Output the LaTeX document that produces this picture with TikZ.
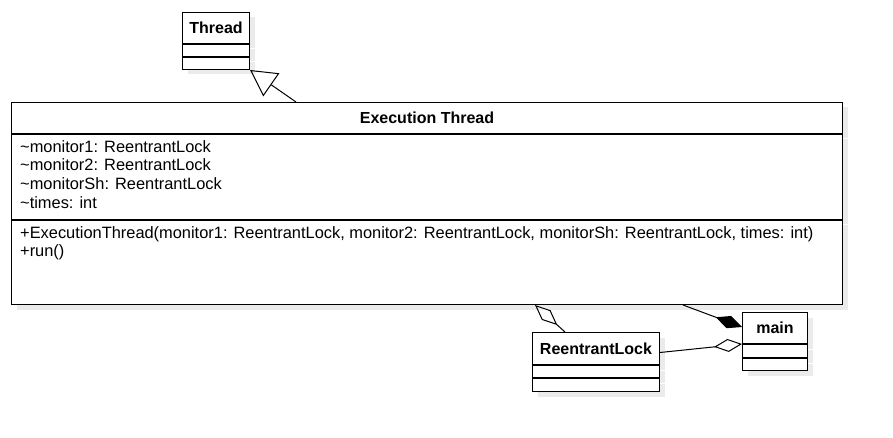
\documentclass[tikz,border=0pt]{standalone}
\usepackage{fontspec}
\setmainfont{Liberation Sans}
\usetikzlibrary{arrows.meta, shadows}

\tikzset{
  umlpart/.style={draw, line width=1pt, fill=white, anchor=north west, inner sep=0pt,
    drop shadow={shadow xshift=5pt, shadow yshift=-5pt, fill=black!8, opacity=1}},
  umlname/.style={font=\fontsize{16}{18.7}\selectfont\bfseries},
  umltext/.style={anchor=north west, inner sep=0pt, align=left, font=\fontsize{16.4}{18.7}\selectfont},
  assoc/.style={line width=1pt},
}

\begin{document}
\begin{tikzpicture}[x=1pt, y=-1pt]
\useasboundingbox (0,0) rectangle (893,438);

% Thread
\node[umlpart, umlname, minimum width=67pt, minimum height=31pt] (thread) at (182,12) {Thread};
\node[umlpart, minimum width=67pt, minimum height=12pt] (thread-attr) at (thread.south west) {};
\node[umlpart, minimum width=67pt, minimum height=12pt] (thread-ops) at (thread-attr.south west) {};

% Execution Thread
\node[umlpart, umlname, minimum width=831pt, minimum height=31pt] (exthread) at (11,102) {Execution Thread};
\node[umlpart, minimum width=831pt, minimum height=85pt] (exthread-attr) at (exthread.south west) {};
\node[umlpart, minimum width=831pt, minimum height=84pt] (exthread-ops) at (exthread-attr.south west) {};
\node[umltext] (exthread-attrtext) at (20,140) {\textasciitilde monitor1: ReentrantLock\\\textasciitilde monitor2: ReentrantLock\\\textasciitilde monitorSh: ReentrantLock\\\textasciitilde times: int};
\node[umltext] (exthread-opstext) at (20,226) {+ExecutionThread(monitor1: ReentrantLock, monitor2: ReentrantLock, monitorSh: ReentrantLock, times: int)\\+run()};

% ReentrantLock
\node[umlpart, umlname, minimum width=127pt, minimum height=32pt] (rlock) at (532,332) {ReentrantLock};
\node[umlpart, minimum width=127pt, minimum height=12pt] (rlock-attr) at (rlock.south west) {};
\node[umlpart, minimum width=127pt, minimum height=13pt] (rlock-ops) at (rlock-attr.south west) {};

% main
\node[umlpart, umlname, minimum width=65pt, minimum height=31pt] (main) at (742,312) {main};
\node[umlpart, minimum width=65pt, minimum height=13pt] (main-attr) at (main.south west) {};
\node[umlpart, minimum width=65pt, minimum height=12pt] (main-ops) at (main-attr.south west) {};

% relations
\draw[assoc, -{Triangle[open, length=26pt, width=28pt]}] ([xshift=285pt]exthread.north west) -- (thread-ops.south east);
\draw[assoc, -{Diamond[open, length=30pt, width=13pt]}] ([xshift=33pt]rlock.north west) -- ([xshift=524pt]exthread-ops.south west);
\draw[assoc, -{Diamond[length=28pt, width=13pt]}] ([xshift=672pt]exthread-ops.south west) -- ([yshift=-15pt]main.north west);
\draw[assoc, -{Diamond[open, length=28pt, width=13pt]}] ([yshift=-4pt]rlock.east) -- (main.south west);
\end{tikzpicture}
\end{document}
